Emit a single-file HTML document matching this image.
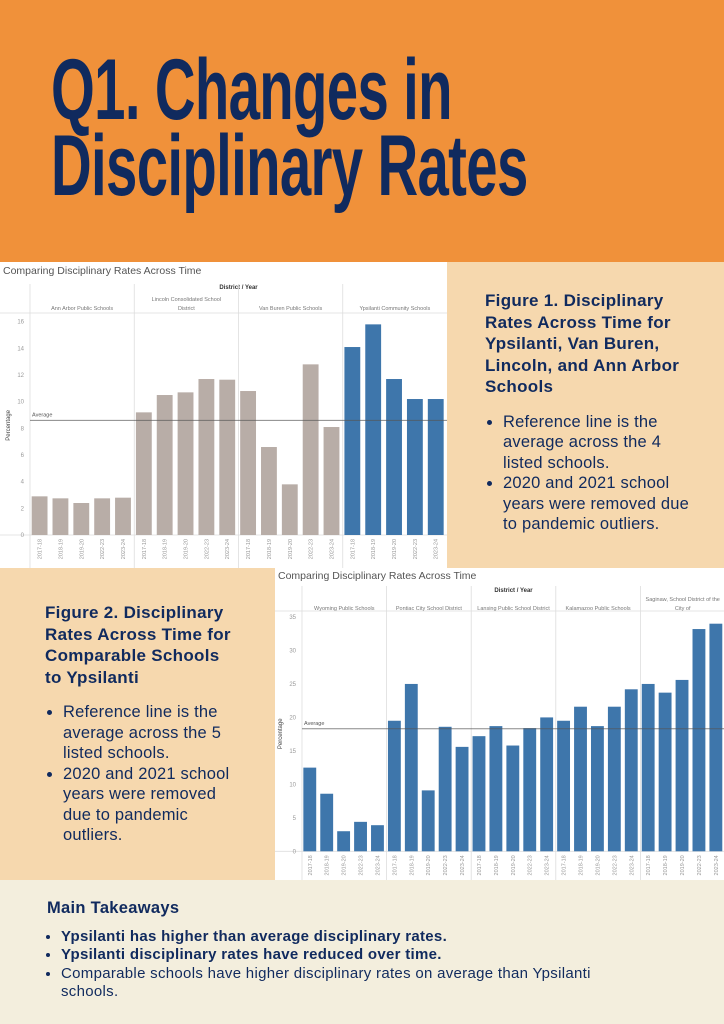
<!DOCTYPE html>
<html><head><meta charset="utf-8">
<style>
body{margin:0;width:724px;height:1024px;position:relative;overflow:hidden;font-family:"Liberation Sans",sans-serif;background:#F3EEDD}
.abs{position:absolute}
#banner{left:0;top:0;width:724px;height:262px;background:#F0913A}
#title{left:51px;top:52px;font-weight:bold;font-size:86px;line-height:76px;color:#102A5E;letter-spacing:-1px;transform:scaleX(0.655);transform-origin:left top;white-space:nowrap}
.beige{background:#F6D8AE}
.fig-h{font-weight:bold;color:#102A5E;font-size:17px;line-height:21.5px;letter-spacing:0.3px}
ul{margin:0;padding:0 0 0 18px;color:#102A5E;font-size:16.5px;line-height:20.5px;letter-spacing:0.2px}
li{margin:0}
svg text{font-family:"Liberation Sans",sans-serif}
</style></head><body>
<div id="banner" class="abs"></div>
<div id="title" class="abs">Q1. Changes in<br>Disciplinary Rates</div>

<div class="abs beige" style="left:447px;top:262px;width:277px;height:306px"></div>
<div class="abs" style="left:485px;top:290px;width:225px">
<div class="fig-h" style="width:210px">Figure 1. Disciplinary Rates Across Time for Ypsilanti, Van Buren, Lincoln, and Ann Arbor Schools</div>
<ul style="margin-top:14px;width:200px"><li>Reference line is the average across the 4 listed schools.</li><li>2020 and 2021 school years were removed due to pandemic outliers.</li></ul>
</div>

<div class="abs beige" style="left:0;top:568px;width:275px;height:312px"></div>
<div class="abs" style="left:45px;top:602px;width:215px">
<div class="fig-h" style="width:188px">Figure 2. Disciplinary Rates Across Time for Comparable Schools to Ypsilanti</div>
<ul style="margin-top:14px;width:185px"><li>Reference line is the average across the 5 listed schools.</li><li>2020 and 2021 school years were removed due to pandemic outliers.</li></ul>
</div>

<div class="abs" style="left:47px;top:898px;width:590px">
<div class="fig-h" style="font-size:16.5px">Main Takeaways</div>
<ul style="margin-top:8px;font-size:15px;line-height:18.5px;padding-left:14px;letter-spacing:0.3px"><li><b>Ypsilanti has higher than average disciplinary rates.</b></li><li><b>Ypsilanti disciplinary rates have reduced over time.</b></li><li>Comparable schools have higher disciplinary rates on average than Ypsilanti schools.</li></ul>
</div>

<svg id="c1" class="abs" style="left:0;top:262px" width="447" height="306"></svg>
<svg id="c2" class="abs" style="left:275px;top:568px" width="449" height="312"></svg>

<script>
const years = ["2017-18","2018-19","2019-20","2022-23","2023-24"];
const districts1 = [["Ann Arbor Public Schools"],["Lincoln Consolidated School","District"],["Van Buren Public Schools"],["Ypsilanti Community Schools"]];
const values1 = [[2.9,2.75,2.4,2.75,2.8],[9.2,10.5,10.7,11.7,11.65],[10.8,6.6,3.8,12.8,8.1],[14.1,15.8,11.7,10.2,10.2]];
const colors1 = ["#B8ADA7","#B8ADA7","#B8ADA7","#3E76AB"];
const ticks1 = [0,2,4,6,8,10,12,14,16];
const average1 = 8.6;
const districts2 = [["Wyoming Public Schools"],["Pontiac City School District"],["Lansing Public School District"],["Kalamazoo Public Schools"],["Saginaw, School District of the","City of"]];
const values2 = [[12.5,8.6,3.0,4.4,3.9],[19.5,25,9.1,18.6,15.6],[17.2,18.7,15.8,18.4,20],[19.5,21.6,18.7,21.6,24.2],[25,23.7,25.6,33.2,34]];
const colors2 = ["#3E76AB","#3E76AB","#3E76AB","#3E76AB","#3E76AB"];
const ticks2 = [0,5,10,15,20,25,30,35];
const average2 = 18.3;

const NS="http://www.w3.org/2000/svg";
function mk(svg,tag,attrs,txt){const e=document.createElementNS(NS,tag);for(const k in attrs)e.setAttribute(k,attrs[k]);if(txt!==undefined)e.textContent=txt;svg.appendChild(e);return e;}
function chart(svg,o,districts,values,colors,ticks,avg){
  const x0=o.x0,x1=o.x1,yb=o.yb,yt=o.yt,max=ticks[ticks.length-1];
  const y=v=>yb-(v/max)*(yb-yt);
  const pw=(x1-x0)/districts.length;
  const bg=mk(svg,'rect',{x:0,y:0,width:svg.getAttribute('width'),height:svg.getAttribute('height'),fill:'#fff'});
  
  
  const t=mk(svg,'text',{x:3,y:o.titleY,'font-size':10.5,fill:'#555'},'Comparing Disciplinary Rates Across Time');
  
  
  const h=mk(svg,'text',{x:(x0+x1)/2,y:o.hdrY,'font-size':6,'font-weight':'bold','text-anchor':'middle',fill:'#333'},'District / Year');
  
  
  mk(svg,'line',{x1:0,x2:x1,y1:o.hdrLine,y2:o.hdrLine,stroke:'#ddd','stroke-width':0.8});
  mk(svg,'line',{x1:0,x2:x1,y1:yb,y2:yb,stroke:'#ddd','stroke-width':0.8});
  ticks.forEach(v=>{const tk=mk(svg,'text',{x:x0-6,y:y(v)+2,'font-size':6,'text-anchor':'end',fill:'#999'},v);
    
    });
  const yl=mk(svg,'text',{x:0,y:0,'font-size':6,'text-anchor':'middle',fill:'#444',transform:`translate(${x0-20},${y(avg)+5}) rotate(-90)`},'Percentage');
  
  
  districts.forEach((d,i)=>{
    const px=x0+i*pw;
    mk(svg,'line',{x1:px,x2:px,y1:o.divTop,y2:o.h,stroke:'#ddd','stroke-width':0.8});
    d.forEach((line,j)=>{const dl=mk(svg,'text',{x:px+pw/2,y:o.nameY-(d.length-1-j)*9,'font-size':5.5,'text-anchor':'middle',fill:'#777'},line);
      
      });
    const bw=pw/5;
    values[i].forEach((v,k)=>{
      const bx=px+k*bw+bw*0.08;
      const r=mk(svg,'rect',{x:bx,y:y(v),width:bw*0.76,height:yb-y(v),fill:colors[i]});
      
      
      const yr=mk(svg,'text',{x:0,y:0,'font-size':5.5,'text-anchor':'end',fill:'#999',transform:`translate(${bx+bw*0.38+2},${yb+4}) rotate(-90)`},years[k]);
      
      
    });
  });
  mk(svg,'line',{x1:x0,x2:x1,y1:y(avg),y2:y(avg),stroke:'#555','stroke-width':1,'stroke-opacity':0.7});
  const al=mk(svg,'text',{x:x0+2,y:y(avg)-4,'font-size':5.5,fill:'#555'},'Average');
  
  
}
chart(document.getElementById('c1'),{x0:30,x1:447,yb:273,yt:59.7,titleY:12,hdrY:27,hdrLine:51,divTop:22,nameY:48,h:306},districts1,values1,colors1,ticks1,average1);
chart(document.getElementById('c2'),{x0:27,x1:450,yb:283.3,yt:49,titleY:11,hdrY:24,hdrLine:43,divTop:18,nameY:42,h:312},districts2,values2,colors2,ticks2,average2);
</script>
</body></html>
